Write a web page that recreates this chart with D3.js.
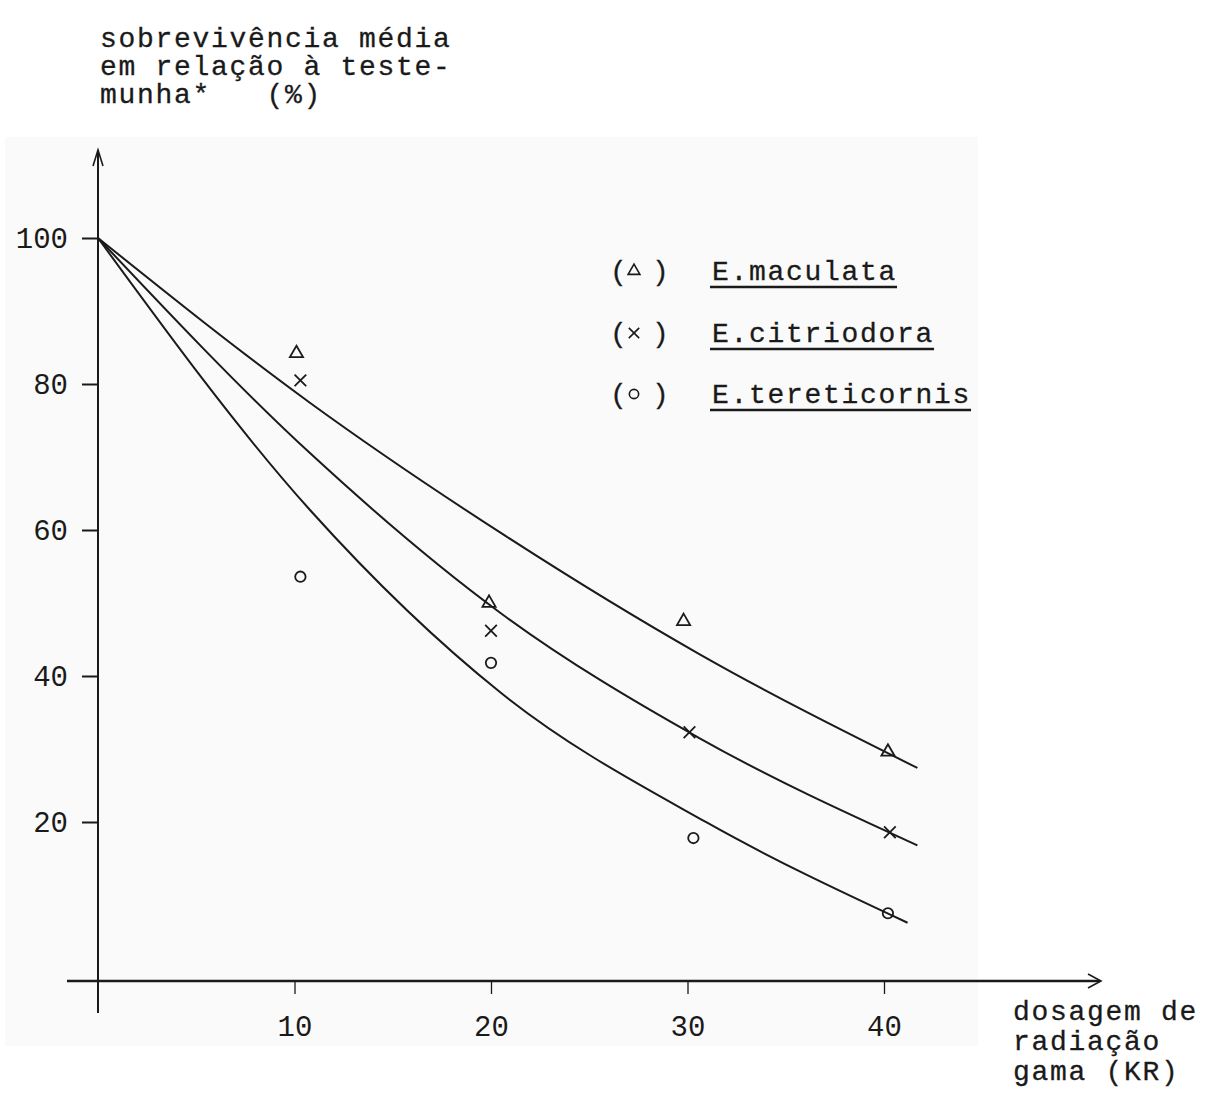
<!DOCTYPE html>
<html>
<head>
<meta charset="utf-8">
<script src="https://cdn.jsdelivr.net/npm/d3@7"></script>
<style>
  body { margin: 0; background: #fff; }
  svg text { fill: #1a1a1a; }
</style>
</head>
<body>
<div id="chart"></div>
<script>
// data
const species = ['E.maculata', 'E.citriodora', 'E.tereticornis'];
const symbols = ['triangle', 'times', 'circle'];

// observed points [dose KR, survival %]
const macPoints = [[10.1, 84.2], [19.9, 50.0], [29.8, 47.5], [40.2, 29.6]];
const citPoints = [[10.3, 80.5], [20.0, 46.2], [30.1, 32.3], [40.3, 18.6]];
const terPoints = [[10.3, 53.6], [20.0, 41.8], [30.3, 17.8], [40.2, 7.5]];

// hand drawn fitted curves, read at a few places along the drawn line
const macCurve = [[0, 100], [10.8, 77.4], [20.5, 59.6], [30.6, 43.0], [41.7, 27.4]];
const citCurve = [[0, 100], [10.8, 70.5], [20.5, 48.6], [30.6, 31.5], [41.7, 16.8]];
const terCurve = [[0, 100], [10.8, 62.7], [20.5, 37.7], [31.0, 19.9], [41.2, 6.2]];

const xTicks = [10, 20, 30, 40];
const yTicks = [20, 40, 60, 80, 100];

const yTitle = ['sobrevivência média', 'em relação à teste-', 'munha*   (%)'];
const xTitle = ['dosagem de', 'radiação', 'gama (KR)'];

function drawChart() {
  const W = 1207, H = 1093;
  const mono = '"Liberation Mono", "DejaVu Sans Mono", monospace';
  const ink = '#1a1a1a';

  const svg = d3.select('#chart').append('svg')
    .attr('width', W)
    .attr('height', H);

  // scanned page panel
  svg.append('rect')
    .attr('x', 5).attr('y', 137)
    .attr('width', 973).attr('height', 909)
    .attr('fill', '#fafafa');

  const x = d3.scaleLinear().domain([0, 40]).range([98, 884]);
  const y = d3.scaleLinear().domain([0, 100]).range([968, 238]);
  const xAxisY = 981;

  // axes lines with arrows
  svg.append('line')
    .attr('x1', x(0)).attr('x2', x(0))
    .attr('y1', 150).attr('y2', 1013)
    .attr('stroke', ink).attr('stroke-width', 2);
  svg.append('path')
    .attr('d', `M${x(0) - 5},166 L${x(0)},150 L${x(0) + 5},166`)
    .attr('fill', 'none').attr('stroke', ink).attr('stroke-width', 1.6);

  svg.append('line')
    .attr('x1', 67).attr('x2', 1100)
    .attr('y1', xAxisY).attr('y2', xAxisY)
    .attr('stroke', ink).attr('stroke-width', 2.6);
  svg.append('path')
    .attr('d', `M1088,974 L1101,${xAxisY} L1088,988`)
    .attr('fill', 'none').attr('stroke', ink).attr('stroke-width', 1.6);

  // y axis ticks + labels
  const yAxis = svg.append('g')
    .attr('transform', `translate(${x(0)},0)`)
    .call(d3.axisLeft(y).tickValues(yTicks).tickSize(16).tickPadding(14));
  yAxis.select('.domain').remove();
  yAxis.selectAll('line').attr('stroke', ink).attr('stroke-width', 2);
  yAxis.selectAll('text')
    .attr('font-family', mono)
    .attr('font-size', 29)
    .attr('fill', ink);

  // x axis ticks + labels
  const xAxis = svg.append('g')
    .attr('transform', `translate(0,${xAxisY})`)
    .call(d3.axisBottom(x).tickValues(xTicks).tickSize(13).tickPadding(21));
  xAxis.select('.domain').remove();
  xAxis.selectAll('line').attr('stroke', ink).attr('stroke-width', 1.3);
  xAxis.selectAll('text')
    .attr('font-family', mono)
    .attr('font-size', 29)
    .attr('fill', ink);

  // curves
  const line = d3.line()
    .x(d => x(d[0]))
    .y(d => y(d[1]))
    .curve(d3.curveMonotoneX);

  [macCurve, citCurve, terCurve].forEach(c => {
    svg.append('path')
      .datum(c)
      .attr('d', line)
      .attr('fill', 'none')
      .attr('stroke', ink)
      .attr('stroke-width', 2);
  });

  // markers
  const symbolType = {
    triangle: d3.symbolTriangle,
    times: d3.symbolTimes,
    circle: d3.symbolCircle
  };
  const symbolSize = { triangle: 75, times: 90, circle: 85 };

  [macPoints, citPoints, terPoints].forEach((pts, i) => {
    const s = symbols[i];
    svg.selectAll(null)
      .data(pts)
      .enter().append('path')
        .attr('transform', d => `translate(${x(d[0])},${y(d[1])})`)
        .attr('d', d3.symbol().type(symbolType[s]).size(symbolSize[s]))
        .attr('fill', 'none')
        .attr('stroke', ink)
        .attr('stroke-width', 1.8);
  });

  // legend
  const legendY = [280, 342, 403];
  species.forEach((name, i) => {
    const g = svg.append('g');
    g.append('text')
      .attr('x', 610).attr('y', legendY[i])
      .attr('font-family', mono).attr('font-size', 28)
      .attr('stroke', ink).attr('stroke-width', 0.3)
      .text('(');
    g.append('text')
      .attr('x', 652).attr('y', legendY[i])
      .attr('font-family', mono).attr('font-size', 28)
      .attr('stroke', ink).attr('stroke-width', 0.3)
      .text(')');
    const s = symbols[i];
    g.append('path')
      .attr('transform', `translate(634,${legendY[i] - 9})`)
      .attr('d', d3.symbol().type(symbolType[s]).size(symbolSize[s] * 0.8))
      .attr('fill', 'none')
      .attr('stroke', ink)
      .attr('stroke-width', 1.6);
    const t = g.append('text')
      .attr('x', 712).attr('y', legendY[i])
      .attr('font-family', mono).attr('font-size', 28)
      .attr('letter-spacing', 1.7)
      .attr('stroke', ink).attr('stroke-width', 0.3)
      .text(name);
    const len = t.node().getComputedTextLength();
    g.append('line')
      .attr('x1', 710).attr('x2', 712 + len)
      .attr('y1', legendY[i] + 7).attr('y2', legendY[i] + 7)
      .attr('stroke', ink).attr('stroke-width', 2.5);
  });

  // axis titles
  svg.append('text')
    .attr('font-family', mono).attr('font-size', 28)
    .attr('letter-spacing', 1.7)
    .attr('stroke', ink).attr('stroke-width', 0.3)
    .style('white-space', 'pre')
    .selectAll('tspan')
    .data(yTitle)
    .enter().append('tspan')
      .attr('x', 100)
      .attr('y', (d, i) => 47 + i * 28)
      .text(d => d);

  svg.append('text')
    .attr('font-family', mono).attr('font-size', 28)
    .attr('letter-spacing', 1.7)
    .attr('stroke', ink).attr('stroke-width', 0.3)
    .selectAll('tspan')
    .data(xTitle)
    .enter().append('tspan')
      .attr('x', 1013)
      .attr('y', (d, i) => 1020 + i * 30)
      .text(d => d);
}

drawChart();
</script>
</body>
</html>
